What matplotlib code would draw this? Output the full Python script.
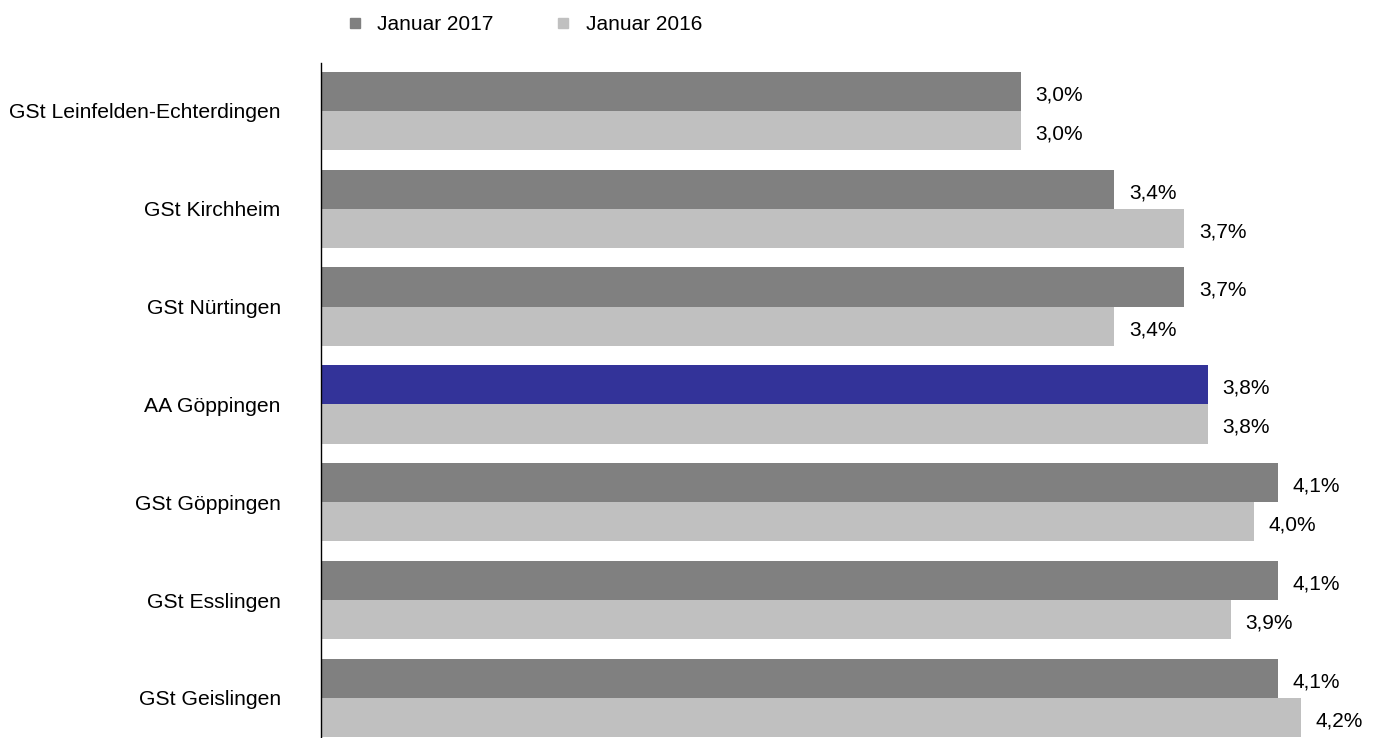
import matplotlib.pyplot as plt
from matplotlib.lines import Line2D
import numpy as np

plt.rcParams['font.family'] = ['Liberation Sans', 'DejaVu Sans']

# Daten
stellen = ["GSt Leinfelden-Echterdingen", "GSt Kirchheim", "GSt Nürtingen",
           "AA Göppingen", "GSt Göppingen", "GSt Esslingen", "GSt Geislingen"]
jan_2017 = [3.0, 3.4, 3.7, 3.8, 4.1, 4.1, 4.1]
jan_2016 = [3.0, 3.7, 3.4, 3.8, 4.0, 3.9, 4.2]

dunkel = "#808080"
hell = "#c0c0c0"
blau = "#333399"

fig = plt.figure(figsize=(13.8, 7.38), dpi=100)
ax = fig.add_axes([321 / 1380, 0, 1050 / 1380, 1 - 63 / 738])

y = np.arange(len(stellen))
h = 0.4
farben_2017 = [blau if s == "AA Göppingen" else dunkel for s in stellen]
ax.barh(y - h / 2, jan_2017, height=h, color=farben_2017)
ax.barh(y + h / 2, jan_2016, height=h, color=hell)

# Werte neben den Balken
for i in range(len(stellen)):
    ax.annotate(f"{jan_2017[i]:.1f}%".replace(".", ","), (jan_2017[i], y[i] - h / 2),
                xytext=(10.5, -1), textcoords="offset points", va="center_baseline",
                fontsize=15)
    ax.annotate(f"{jan_2016[i]:.1f}%".replace(".", ","), (jan_2016[i], y[i] + h / 2),
                xytext=(10.5, -1), textcoords="offset points", va="center_baseline",
                fontsize=15)

ax.set_xlim(0, 4.5)
ax.set_ylim(6.41, -0.49)
ax.set_yticks(y)
ax.set_yticklabels(stellen, fontsize=15.2)
ax.tick_params(axis="y", length=0, pad=29)
ax.set_xticks([])
for s in ["top", "right", "bottom"]:
    ax.spines[s].set_visible(False)
ax.spines["left"].set_color("black")
ax.spines["left"].set_linewidth(1)

# Legende oben
handles = [Line2D([], [], marker="s", ls="", color=dunkel, markersize=7),
           Line2D([], [], marker="s", ls="", color=hell, markersize=7)]
fig.legend(handles, ["Januar 2017", "Januar 2016"], loc="center left",
           bbox_to_anchor=(344.6 / 1380, 1 - 25 / 738), ncol=2, frameon=False,
           fontsize=15, handletextpad=0.56, columnspacing=2.86, handlelength=1,
           borderpad=0, borderaxespad=0)

fig.savefig("out.png", dpi=100)
